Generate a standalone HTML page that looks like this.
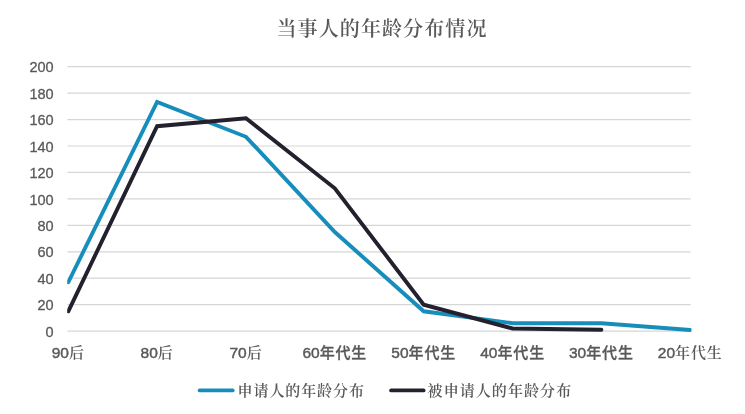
<!DOCTYPE html>
<html lang="zh"><head><meta charset="utf-8"><title>当事人的年龄分布情况</title>
<style>
html,body{margin:0;padding:0;background:#fff;}
body{width:745px;height:414px;overflow:hidden;}
svg{display:block;filter:blur(0.4px);}
.grid line{stroke:#d6d6d6;stroke-width:1.2;}
.yl text{font-family:"Liberation Sans",sans-serif;font-size:14.5px;fill:#595959;text-anchor:end;stroke:#595959;stroke-width:0.3px;}
.xl text{font-family:"Liberation Sans","Noto Sans CJK SC",sans-serif;font-size:15px;fill:#595959;text-anchor:middle;}
.dg{font-family:"Liberation Sans",sans-serif;font-size:15.5px;stroke:#595959;stroke-width:0.45px;}
.cb{font-family:"Noto Sans CJK SC",sans-serif;font-weight:500;font-size:15px;letter-spacing:0.85px;stroke:#595959;stroke-width:0.3px;}
.cs{font-family:"Noto Serif CJK SC",serif;font-weight:600;font-size:15px;letter-spacing:0.85px;}
.title{font-family:"Noto Serif CJK SC",serif;font-weight:600;font-size:20px;fill:#595959;text-anchor:middle;letter-spacing:1.1px;}
.lg{font-family:"Noto Serif CJK SC",serif;font-weight:600;font-size:15px;fill:#595959;letter-spacing:0.9px;}
</style></head><body>
<svg width="745" height="414" viewBox="0 0 745 414">
<rect width="745" height="414" fill="#fff"/>
<text class="title" x="382" y="36">当事人的年龄分布情况</text>
<clipPath id="plot"><rect x="67.2" y="50" width="624.3" height="295"/></clipPath>
<g class="grid"><line x1="67.4" x2="690.7" y1="331.10" y2="331.10"/><line x1="67.4" x2="690.7" y1="304.66" y2="304.66"/><line x1="67.4" x2="690.7" y1="278.22" y2="278.22"/><line x1="67.4" x2="690.7" y1="251.78" y2="251.78"/><line x1="67.4" x2="690.7" y1="225.34" y2="225.34"/><line x1="67.4" x2="690.7" y1="198.90" y2="198.90"/><line x1="67.4" x2="690.7" y1="172.46" y2="172.46"/><line x1="67.4" x2="690.7" y1="146.02" y2="146.02"/><line x1="67.4" x2="690.7" y1="119.58" y2="119.58"/><line x1="67.4" x2="690.7" y1="93.14" y2="93.14"/><line x1="67.4" x2="690.7" y1="66.70" y2="66.70"/></g>
<g class="yl"><text x="53.7" y="336.7">0</text><text x="53.7" y="310.3">20</text><text x="53.7" y="283.8">40</text><text x="53.7" y="257.4">60</text><text x="53.7" y="230.9">80</text><text x="53.7" y="204.5">100</text><text x="53.7" y="178.1">120</text><text x="53.7" y="151.6">140</text><text x="53.7" y="125.2">160</text><text x="53.7" y="98.7">180</text><text x="53.7" y="72.3">200</text></g>
<polyline points="68.3,282.2 157.1,102.0 246.0,136.8 334.8,232.0 423.7,311.3 512.5,323.2 601.4,323.2 690.2,330.0" fill="none" stroke="#168dbb" stroke-width="3.9" stroke-linecap="round" stroke-linejoin="miter" clip-path="url(#plot)"/>
<polyline points="68.3,311.3 157.1,126.2 246.0,118.3 334.8,188.3 423.7,304.7 512.5,328.5 601.4,329.8" fill="none" stroke="#23212e" stroke-width="3.9" stroke-linecap="round" stroke-linejoin="miter" clip-path="url(#plot)"/>
<g class="xl"><text x="68.3" y="358"><tspan class="dg">90</tspan><tspan class="cs">后</tspan></text><text x="157.1" y="358"><tspan class="dg">80</tspan><tspan class="cs">后</tspan></text><text x="246.0" y="358"><tspan class="dg">70</tspan><tspan class="cs">后</tspan></text><text x="334.8" y="358"><tspan class="dg">60</tspan><tspan class="cb">年代生</tspan></text><text x="423.7" y="358"><tspan class="dg">50</tspan><tspan class="cb">年代生</tspan></text><text x="512.6" y="358"><tspan class="dg">40</tspan><tspan class="cb">年代生</tspan></text><text x="601.4" y="358"><tspan class="dg">30</tspan><tspan class="cb">年代生</tspan></text><text x="690.2" y="358"><tspan class="dg">20</tspan><tspan class="cs">年代生</tspan></text></g>
<line x1="199.6" x2="232.7" y1="390.4" y2="390.4" stroke="#168dbb" stroke-width="3.8" stroke-linecap="round"/>
<text class="lg" x="237.6" y="396.3">申请人的年龄分布</text>
<line x1="391.1" x2="423.6" y1="390.4" y2="390.4" stroke="#23212e" stroke-width="3.8" stroke-linecap="round"/>
<text class="lg" style="letter-spacing:1.07px" x="427.6" y="396.3">被申请人的年龄分布</text>
</svg>
</body></html>
